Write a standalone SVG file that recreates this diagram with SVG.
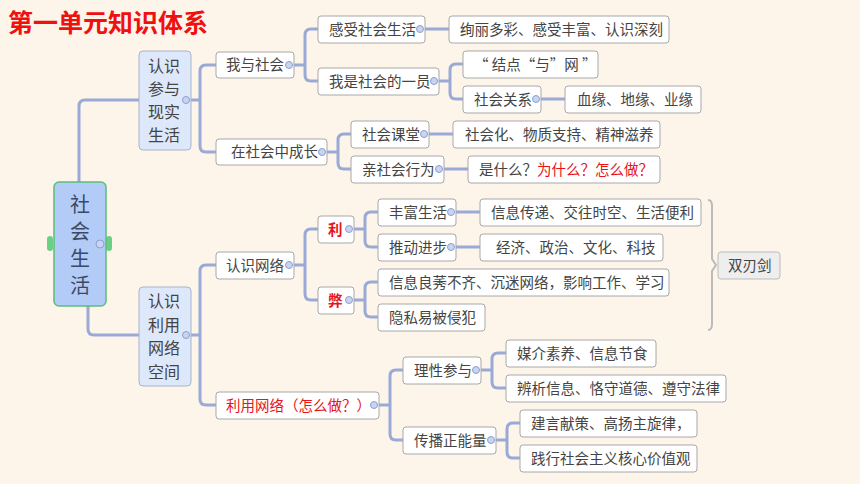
<svg xmlns="http://www.w3.org/2000/svg" width="860" height="484" viewBox="0 0 860 484">
<style>
text{font-family:"Noto Sans CJK SC","Noto Sans",sans-serif;font-size:14.5px;fill:#444}
.b{fill:#fff;stroke:#a8a8a8;stroke-width:1}
.l1{fill:#dde8fb;stroke:#a9b4c8;stroke-width:1}
.r{fill:#e8141a}
.c path{fill:none;stroke:#9aaad6;stroke-width:3}
.t{fill:#c9d4ef;stroke:#8b9fd2;stroke-width:1}
</style>
<rect width="860" height="484" fill="#fdf4ea"/>
<text x="8" y="32" style="font-size:25px;font-weight:bold;fill:#f01010">第一单元知识体系</text>
<g class="c" id="connectors">
<path d="M79,182 V106 Q79,100 85,100 H139"/>
<path d="M88,306 V329 Q88,335 94,335 H139"/>
<path d="M191,100 H200 M200,100 V71 Q200,65 206,65 H216 M200,100 V146 Q200,152 206,152 H216"/>
<path d="M294,65 H305 M305,65 V35 Q305,29 311,29 H318 M305,65 V75 Q305,81 311,81 H318"/>
<path d="M425,29 H449"/>
<path d="M439,81 H450 M450,81 V70 Q450,64 456,64 H463 M450,81 V93 Q450,99 456,99 H463"/>
<path d="M541,99 H565"/>
<path d="M327,152 H338 M338,152 V140 Q338,134 344,134 H351 M338,152 V163 Q338,169 344,169 H351"/>
<path d="M429,134 H453 M444,169 H468"/>
<path d="M191,335 H200 M200,335 V271 Q200,265 206,265 H216 M200,335 V399 Q200,405 206,405 H216"/>
<path d="M294,265 H305 M305,265 V235 Q305,229 311,229 H318 M305,265 V294 Q305,300 311,300 H318"/>
<path d="M354,229 H365 M365,229 V218 Q365,212 371,212 H378 M365,229 V241 Q365,247 371,247 H378"/>
<path d="M354,300 H365 M365,300 V288 Q365,282 371,282 H378 M365,300 V311 Q365,317 371,317 H378"/>
<path d="M456,212 H480 M456,247 H480"/>
<path d="M379,405 H390 M390,405 V376 Q390,370 396,370 H403 M390,405 V434 Q390,440 396,440 H403"/>
<path d="M481,370 H492 M492,370 V359 Q492,353 498,353 H506 M492,370 V382 Q492,388 498,388 H506"/>
<path d="M496,440 H507 M507,440 V429 Q507,423 513,423 H520 M507,440 V452 Q507,458 513,458 H520"/>
<path d="M708,200 Q712,200 712,206 V259 L716,265 L712,271 V324 Q712,330 708,330" style="stroke:#bbb;stroke-width:2"/>
</g>
<g id="root">
<rect x="47" y="236" width="6" height="15" rx="3" fill="#6ccf86"/>
<rect x="106" y="236" width="6" height="15" rx="3" fill="#6ccf86"/>
<rect x="54" y="182" width="52" height="124" rx="5" fill="#b3cbf7" stroke="#5cbf7a" stroke-width="1.5"/>
<text x="80" text-anchor="middle" style="font-size:20px;fill:#3a4a66"><tspan x="80" y="212">社</tspan><tspan x="80" y="239">会</tspan><tspan x="80" y="266">生</tspan><tspan x="80" y="293">活</tspan></text>
<circle cx="100" cy="244" r="4" class="t"/>
</g>
<g id="n-canyu"><rect class="l1" x="139" y="51" width="52" height="99" rx="4"/>
<text text-anchor="middle" style="font-size:16px"><tspan x="164" y="72">认识</tspan><tspan x="164" y="95">参与</tspan><tspan x="164" y="118">现实</tspan><tspan x="164" y="141">生活</tspan></text><circle cx="186" cy="100" r="3.5" class="t"/></g>
<g id="n-liyong"><rect class="l1" x="139" y="287" width="52" height="99" rx="4"/>
<text text-anchor="middle" style="font-size:16px"><tspan x="164" y="307">认识</tspan><tspan x="164" y="331">利用</tspan><tspan x="164" y="354">网络</tspan><tspan x="164" y="378">空间</tspan></text><circle cx="186" cy="335" r="3.5" class="t"/></g>
<g id="n1"><rect class="b" x="216" y="52" width="78" height="26" rx="3"/><text x="226" y="70">我与社会</text><circle cx="289" cy="65" r="3.5" class="t"/></g>
<g id="n2"><rect class="b" x="216" y="139" width="111" height="26" rx="3"/><text x="231" y="157">在社会中成长</text><circle cx="322" cy="152" r="3.5" class="t"/></g>
<g id="n3"><rect class="b" x="216" y="252" width="78" height="27" rx="3"/><text x="226" y="271">认识网络</text><circle cx="289" cy="265" r="3.5" class="t"/></g>
<g id="n4"><rect class="b" x="216" y="392" width="163" height="27" rx="3"/><text x="226" y="411" class="r">利用网络（怎么做？）</text><circle cx="374" cy="405" r="3.5" class="t"/></g>
<g id="n5"><rect class="b" x="318" y="16" width="107" height="27" rx="3"/><text x="329" y="35">感受社会生活</text><circle cx="420" cy="29" r="3.5" class="t"/></g>
<g id="n6"><rect class="b" x="318" y="68" width="121" height="27" rx="3"/><text x="329" y="87">我是社会的一员</text><circle cx="434" cy="81" r="3.5" class="t"/></g>
<g id="n7"><rect class="b" x="351" y="121" width="78" height="27" rx="3"/><text x="362" y="140">社会课堂</text><circle cx="424" cy="134" r="3.5" class="t"/></g>
<g id="n8"><rect class="b" x="351" y="156" width="93" height="27" rx="3"/><text x="362" y="175">亲社会行为</text><circle cx="439" cy="169" r="3.5" class="t"/></g>
<g id="n9"><rect class="b" x="318" y="216" width="36" height="27" rx="3"/><text x="328" y="235" class="r" style="font-weight:bold">利</text><circle cx="349" cy="229" r="3.5" class="t"/></g>
<g id="n10"><rect class="b" x="318" y="287" width="36" height="27" rx="3"/><text x="328" y="306" class="r" style="font-weight:bold">弊</text><circle cx="349" cy="300" r="3.5" class="t"/></g>
<g id="n11"><rect class="b" x="403" y="357" width="78" height="27" rx="3"/><text x="414" y="376">理性参与</text><circle cx="476" cy="370" r="3.5" class="t"/></g>
<g id="n12"><rect class="b" x="403" y="427" width="93" height="27" rx="3"/><text x="414" y="446">传播正能量</text><circle cx="491" cy="440" r="3.5" class="t"/></g>
<g id="n13"><rect class="b" x="449" y="16" width="220" height="27" rx="3"/><text x="460" y="35">绚丽多彩、感受丰富、认识深刻</text></g>
<g id="n14"><rect class="b" x="463" y="51" width="135" height="27" rx="3"/><text x="474" y="70">“ 结点“与”网 ”</text></g>
<g id="n15"><rect class="b" x="463" y="86" width="78" height="27" rx="3"/><text x="474" y="105">社会关系</text><circle cx="536" cy="99" r="3.5" class="t"/></g>
<g id="n16"><rect class="b" x="565" y="86" width="136" height="27" rx="3"/><text x="577" y="105">血缘、地缘、业缘</text></g>
<g id="n17"><rect class="b" x="453" y="121" width="207" height="27" rx="3"/><text x="465" y="140">社会化、物质支持、精神滋养</text></g>
<g id="n18"><rect class="b" x="468" y="156" width="192" height="27" rx="3"/><text x="479" y="175">是什么？<tspan class="r">为什么？怎么做？</tspan></text></g>
<g id="n19"><rect class="b" x="378" y="199" width="78" height="27" rx="3"/><text x="389" y="218">丰富生活</text><circle cx="451" cy="212" r="3.5" class="t"/></g>
<g id="n20"><rect class="b" x="378" y="234" width="78" height="27" rx="3"/><text x="389" y="253">推动进步</text><circle cx="451" cy="247" r="3.5" class="t"/></g>
<g id="n21"><rect class="b" x="378" y="269" width="291" height="27" rx="3"/><text x="389" y="288">信息良莠不齐、沉迷网络，影响工作、学习</text></g>
<g id="n22"><rect class="b" x="378" y="304" width="107" height="27" rx="3"/><text x="389" y="323">隐私易被侵犯</text></g>
<g id="n23"><rect class="b" x="480" y="199" width="221" height="27" rx="3"/><text x="491" y="218">信息传递、交往时空、生活便利</text></g>
<g id="n24"><rect class="b" x="480" y="234" width="183" height="27" rx="3"/><text x="496" y="253">经济、政治、文化、科技</text></g>
<g id="n25"><rect x="718" y="252" width="62" height="27" rx="3" fill="#eeeeee" stroke="#bbb"/><text x="728" y="271">双刃剑</text></g>
<g id="n26"><rect class="b" x="506" y="340" width="150" height="27" rx="3"/><text x="517" y="359">媒介素养、信息节食</text></g>
<g id="n27"><rect class="b" x="506" y="375" width="220" height="27" rx="3"/><text x="517" y="394">辨析信息、恪守道德、遵守法律</text></g>
<g id="n28"><rect class="b" x="520" y="410" width="177" height="27" rx="3"/><text x="531" y="429">建言献策、高扬主旋律，</text></g>
<g id="n29"><rect class="b" x="520" y="445" width="177" height="27" rx="3"/><text x="531" y="464">践行社会主义核心价值观</text></g>
</svg>
